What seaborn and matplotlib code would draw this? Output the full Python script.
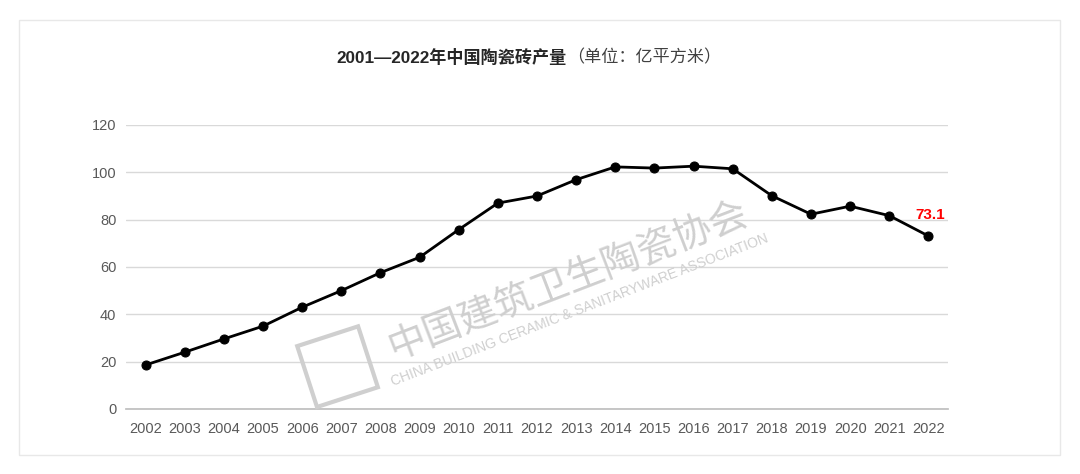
import matplotlib
matplotlib.use("Agg")
import matplotlib.pyplot as plt
import seaborn as sns
import pandas as pd
from matplotlib.patches import Rectangle
from matplotlib.transforms import IdentityTransform

# data
years = [str(y) for y in range(2002, 2023)]
output = [18.6, 24.0, 29.6, 35.0, 43.0, 50.0, 57.6, 64.1, 75.8, 87.0, 90.0,
          96.9, 102.3, 101.8, 102.6, 101.5, 90.1, 82.3, 85.7, 81.7, 73.1]
y_ticks = [0, 20, 40, 60, 80, 100, 120]

title_bold = "2001—2022年中国陶瓷砖产量"
title_unit = "（单位：亿平方米）"
wm_cn = "中国建筑卫生陶瓷协会"
wm_en = "CHINA BUILDING CERAMIC & SANITARYWARE ASSOCIATION"

sns.set_theme(style="white")
plt.rcParams['font.family'] = ['Liberation Sans', 'Noto Sans CJK SC', 'DejaVu Sans']

df = pd.DataFrame({"pos": range(len(years)), "year": years, "value": output})

fig = plt.figure(figsize=(10.8, 4.74), dpi=100)
fig.patch.set_facecolor("white")
fig.patches.append(Rectangle((19 / 1080, 1 - 455 / 474), (1060 - 19) / 1080, (455 - 20) / 474,
                             transform=fig.transFigure, fill=False, edgecolor="#e8e8e8", lw=1))

ax = fig.add_axes([126 / 1080, 1 - 409 / 474, (948 - 126) / 1080, (409 - 125) / 474])
sns.lineplot(data=df, x="pos", y="value", ax=ax, color="black", lw=2,
             marker="o", markersize=6.5, markeredgecolor="black", zorder=5)

ax.set_xlim(-0.5, len(years) - 0.5)
ax.set_ylim(0, 120)
ax.set_yticks(y_ticks)
ax.set_xticks(range(len(years)))
ax.set_xticklabels(years)
ax.set_xticks([i - 0.5 for i in range(len(years) + 1)], minor=True)
ax.tick_params(axis="x", which="major", length=0, pad=9.5, labelsize=10.5, labelcolor="#595959")
ax.tick_params(axis="x", which="minor", length=5, color="#bfbfbf", width=1, direction="out")
ax.tick_params(axis="y", length=0, pad=7, labelsize=10.5, labelcolor="#595959")
ax.grid(axis="y", color="#d9d9d9", lw=1)
ax.set_axisbelow(True)
for s in ["top", "right", "left"]:
    ax.spines[s].set_visible(False)
ax.spines["bottom"].set_color("#bfbfbf")
ax.set_xlabel("")
ax.set_ylabel("")

# last value label
ax.annotate(f"{output[-1]}", (len(years) - 1, output[-1]), xytext=(1, 15),
            textcoords="offset points", ha="center", va="center",
            color="#ff0000", fontsize=11, fontweight="bold")

# watermark
fig.text(568 / 1080, 1 - 280 / 474, wm_cn, rotation=21, fontsize=27.5, color="#cfcfcf",
         ha="center", va="center", family=['Noto Sans CJK SC'], zorder=0)
fig.text(580 / 1080, 1 - 310 / 474, wm_en, rotation=21, fontsize=10, color="#cfcfcf",
         ha="center", va="center", zorder=0)
fig.patches.append(Rectangle((317, 67), 64, 64, angle=18, transform=IdentityTransform(),
                             fill=False, edgecolor="#cfcfcf", lw=3))

# title, bold part + normal unit part
t1 = fig.text(567 / 1080, 1 - 57 / 474, title_bold, ha="right", va="center",
              fontsize=12.3, fontweight="bold", color="#262626")
ax.annotate(title_unit, xy=(1, 0.5), xycoords=t1, ha="left", va="center",
            fontsize=12.3, color="#404040")

fig.savefig("out.png", dpi=100, facecolor="white")
